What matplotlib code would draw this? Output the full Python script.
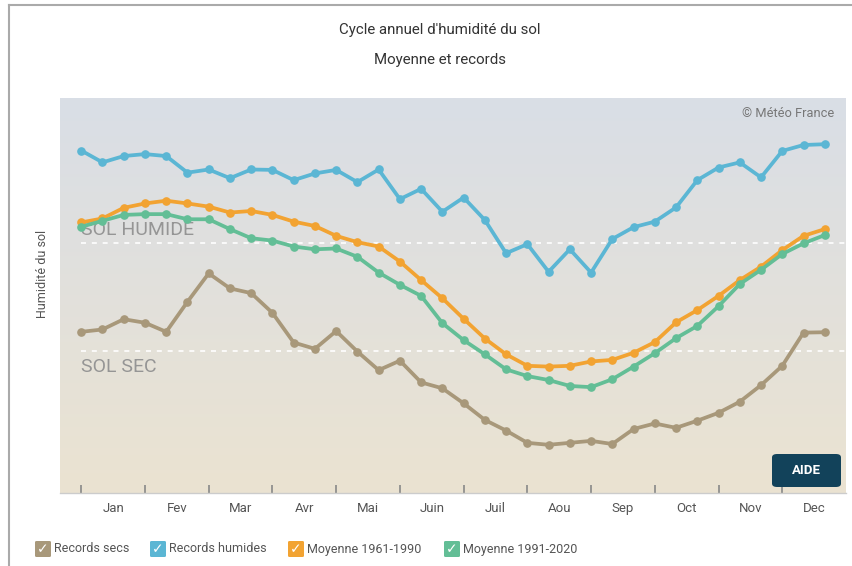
import numpy as np
import matplotlib
matplotlib.use("Agg")
import matplotlib.pyplot as plt
from matplotlib.patches import FancyBboxPatch
from matplotlib.lines import Line2D

plt.rcParams['font.family'] = ['Roboto', 'DejaVu Sans']

# ---- data (soil moisture index, 0-100 scale, 36 dekads) ----
months = ["Jan", "Fev", "Mar", "Avr", "Mai", "Juin", "Juil", "Aou", "Sep", "Oct", "Nov", "Dec"]
dekads = np.arange(36)

records_humides = [86.7, 83.7, 85.3, 85.8, 85.3, 81.1, 81.9, 79.7, 81.9, 81.8, 79.2, 80.9,
                   81.8, 78.7, 81.9, 74.4, 77.0, 71.2, 74.8, 69.1, 60.7, 63.0, 56.0, 61.7,
                   55.8, 64.3, 67.3, 68.7, 72.3, 79.2, 82.4, 83.7, 79.9, 86.6, 88.1, 88.3]
moyenne_1961_1990 = [68.5, 69.5, 72.2, 73.3, 74.0, 73.3, 72.5, 71.0, 71.4, 70.4, 68.7, 67.6,
                     65.1, 63.5, 62.4, 58.6, 53.9, 49.3, 44.1, 39.1, 35.1, 32.2, 32.0, 32.2,
                     33.3, 33.7, 35.5, 38.2, 43.2, 46.3, 49.9, 53.9, 57.3, 61.5, 65.1, 66.8]
moyenne_1991_2020 = [67.4, 68.9, 70.4, 70.6, 70.6, 69.3, 69.3, 66.8, 64.5, 63.9, 62.4, 61.7,
                     61.9, 59.8, 55.8, 52.7, 49.9, 43.0, 38.7, 35.1, 31.3, 29.6, 28.6, 27.1,
                     26.8, 28.8, 32.0, 35.4, 39.2, 42.3, 47.3, 52.9, 56.5, 60.5, 63.2, 65.3]
records_secs = [40.8, 41.4, 44.0, 43.1, 40.8, 48.4, 55.6, 51.8, 50.6, 45.6, 38.1, 36.5,
                41.0, 35.8, 31.1, 33.5, 28.0, 26.5, 22.7, 18.5, 15.8, 12.7, 12.2, 12.7,
                13.2, 12.4, 16.2, 17.6, 16.5, 18.3, 20.3, 23.1, 27.3, 32.2, 40.6, 40.7]

seuil_humide = 63.4
seuil_sec = 36.0

series = [
    ("Records secs", records_secs, "#a8987a"),
    ("Records humides", records_humides, "#5bb6d4"),
    ("Moyenne 1961-1990", moyenne_1961_1990, "#f2a332"),
    ("Moyenne 1991-2020", moyenne_1991_2020, "#63be96"),
]

W, H = 852, 566
fig = plt.figure(figsize=(W / 100, H / 100), dpi=100)
fig.patch.set_facecolor("white")

# frame lines (left and top)
fig.add_artist(Line2D([8.5 / W, 8.5 / W], [0, 1 - 5 / H], color="#aaaaaa", lw=1.5, transform=fig.transFigure))
fig.add_artist(Line2D([8.5 / W, 1], [1 - 5 / H, 1 - 5 / H], color="#aaaaaa", lw=1.5, transform=fig.transFigure))

ax_l, ax_r, ax_t, ax_b = 60, 846, 98, 493
ax = fig.add_axes([ax_l / W, 1 - ax_b / H, (ax_r - ax_l) / W, (ax_b - ax_t) / H])

# gradient background
top = np.array([217, 222, 230]) / 255
bot = np.array([235, 227, 209]) / 255
t = np.linspace(0, 1, 256)[:, None]
grad = (top[None, :] * (1 - t) + bot[None, :] * t)[:, None, :]
ax.imshow(grad, extent=[0, 1, 0, 1], transform=ax.transAxes, aspect="auto", zorder=0)

x = dekads / 3.0
ax.set_xlim(-1 / 3, 12)
ax.set_ylim(0, 100)

# threshold lines
for yv in (seuil_humide, seuil_sec):
    ax.plot([0, 12], [yv, yv], color="white", lw=1.2, ls=(0, (3, 3.5)), zorder=1)
ax.text(0, seuil_humide + 1.0, "SOL HUMIDE", fontsize=14, color="#959595",
        va="bottom", ha="left", zorder=1.5)
ax.text(0, seuil_sec - 1.8, "SOL SEC", fontsize=14, color="#959595",
        va="top", ha="left", zorder=1.5)

for name, vals, col in series:
    ax.plot(x, vals, color=col, lw=2.7, marker="o", ms=5.2, zorder=3,
            solid_joinstyle="round", solid_capstyle="round")

# axes styling
for s in ("top", "right", "left"):
    ax.spines[s].set_visible(False)
ax.spines["bottom"].set_color("#cccccc")
ax.spines["bottom"].set_linewidth(1.0)
ax.set_yticks([])
ax.set_xticks(np.arange(12))
ax.set_xticklabels([])
ax.set_xticks(np.arange(12) + 0.5, minor=True)
ax.set_xticklabels(months, minor=True)
ax.tick_params(axis="x", which="major", direction="in", length=6, width=1.2, color="#888888")
ax.tick_params(axis="x", which="minor", length=0, pad=6.5, labelsize=9.5, labelcolor="#555555")

fig.text(43 / W, 1 - 274 / H, "Humidité du sol", rotation=90, ha="center", va="center",
         fontsize=9, color="#555555")

ax.text(0.985, 0.962, "© Météo France", transform=ax.transAxes, ha="right", va="center",
        fontsize=9.3, color="#777777")

# AIDE button
bx0, by0, bx1, by1 = 772, 454, 841, 487
btn = FancyBboxPatch((bx0 / W, 1 - by1 / H), (bx1 - bx0) / W, (by1 - by0) / H,
                     boxstyle="round,pad=0,rounding_size=0.006", transform=fig.transFigure,
                     facecolor="#12425a", edgecolor="none", zorder=10)
fig.add_artist(btn)
fig.text((bx0 + bx1) / 2 / W, 1 - (by0 + by1) / 2 / H, "AIDE", ha="center", va="center",
         fontsize=9.5, fontweight="bold", color="white", zorder=11)

# titles
fig.text(440 / W, 1 - 30 / H, "Cycle annuel d'humidité du sol", ha="center", va="center",
         fontsize=10.8, color="#333333")
fig.text(440 / W, 1 - 60 / H, "Moyenne et records", ha="center", va="center",
         fontsize=10.8, color="#333333")

# legend with check boxes
leg_x = [35, 150, 288, 444]
ly = 549
for (name, vals, col), lx in zip(series, leg_x):
    box = FancyBboxPatch((lx / W, 1 - (ly + 8) / H), 16 / W, 16 / H,
                         boxstyle="round,pad=0,rounding_size=0.002", transform=fig.transFigure,
                         facecolor=col, edgecolor="none")
    fig.add_artist(box)
    fig.text((lx + 8) / W, 1 - (ly) / H, "✓", ha="center", va="center", fontsize=10,
             color="white", family=["DejaVu Sans"], fontweight="bold")
    fig.text((lx + 19) / W, 1 - ly / H, name, ha="left", va="center", fontsize=9,
             color="#555555")

fig.savefig("out.png", dpi=100)
